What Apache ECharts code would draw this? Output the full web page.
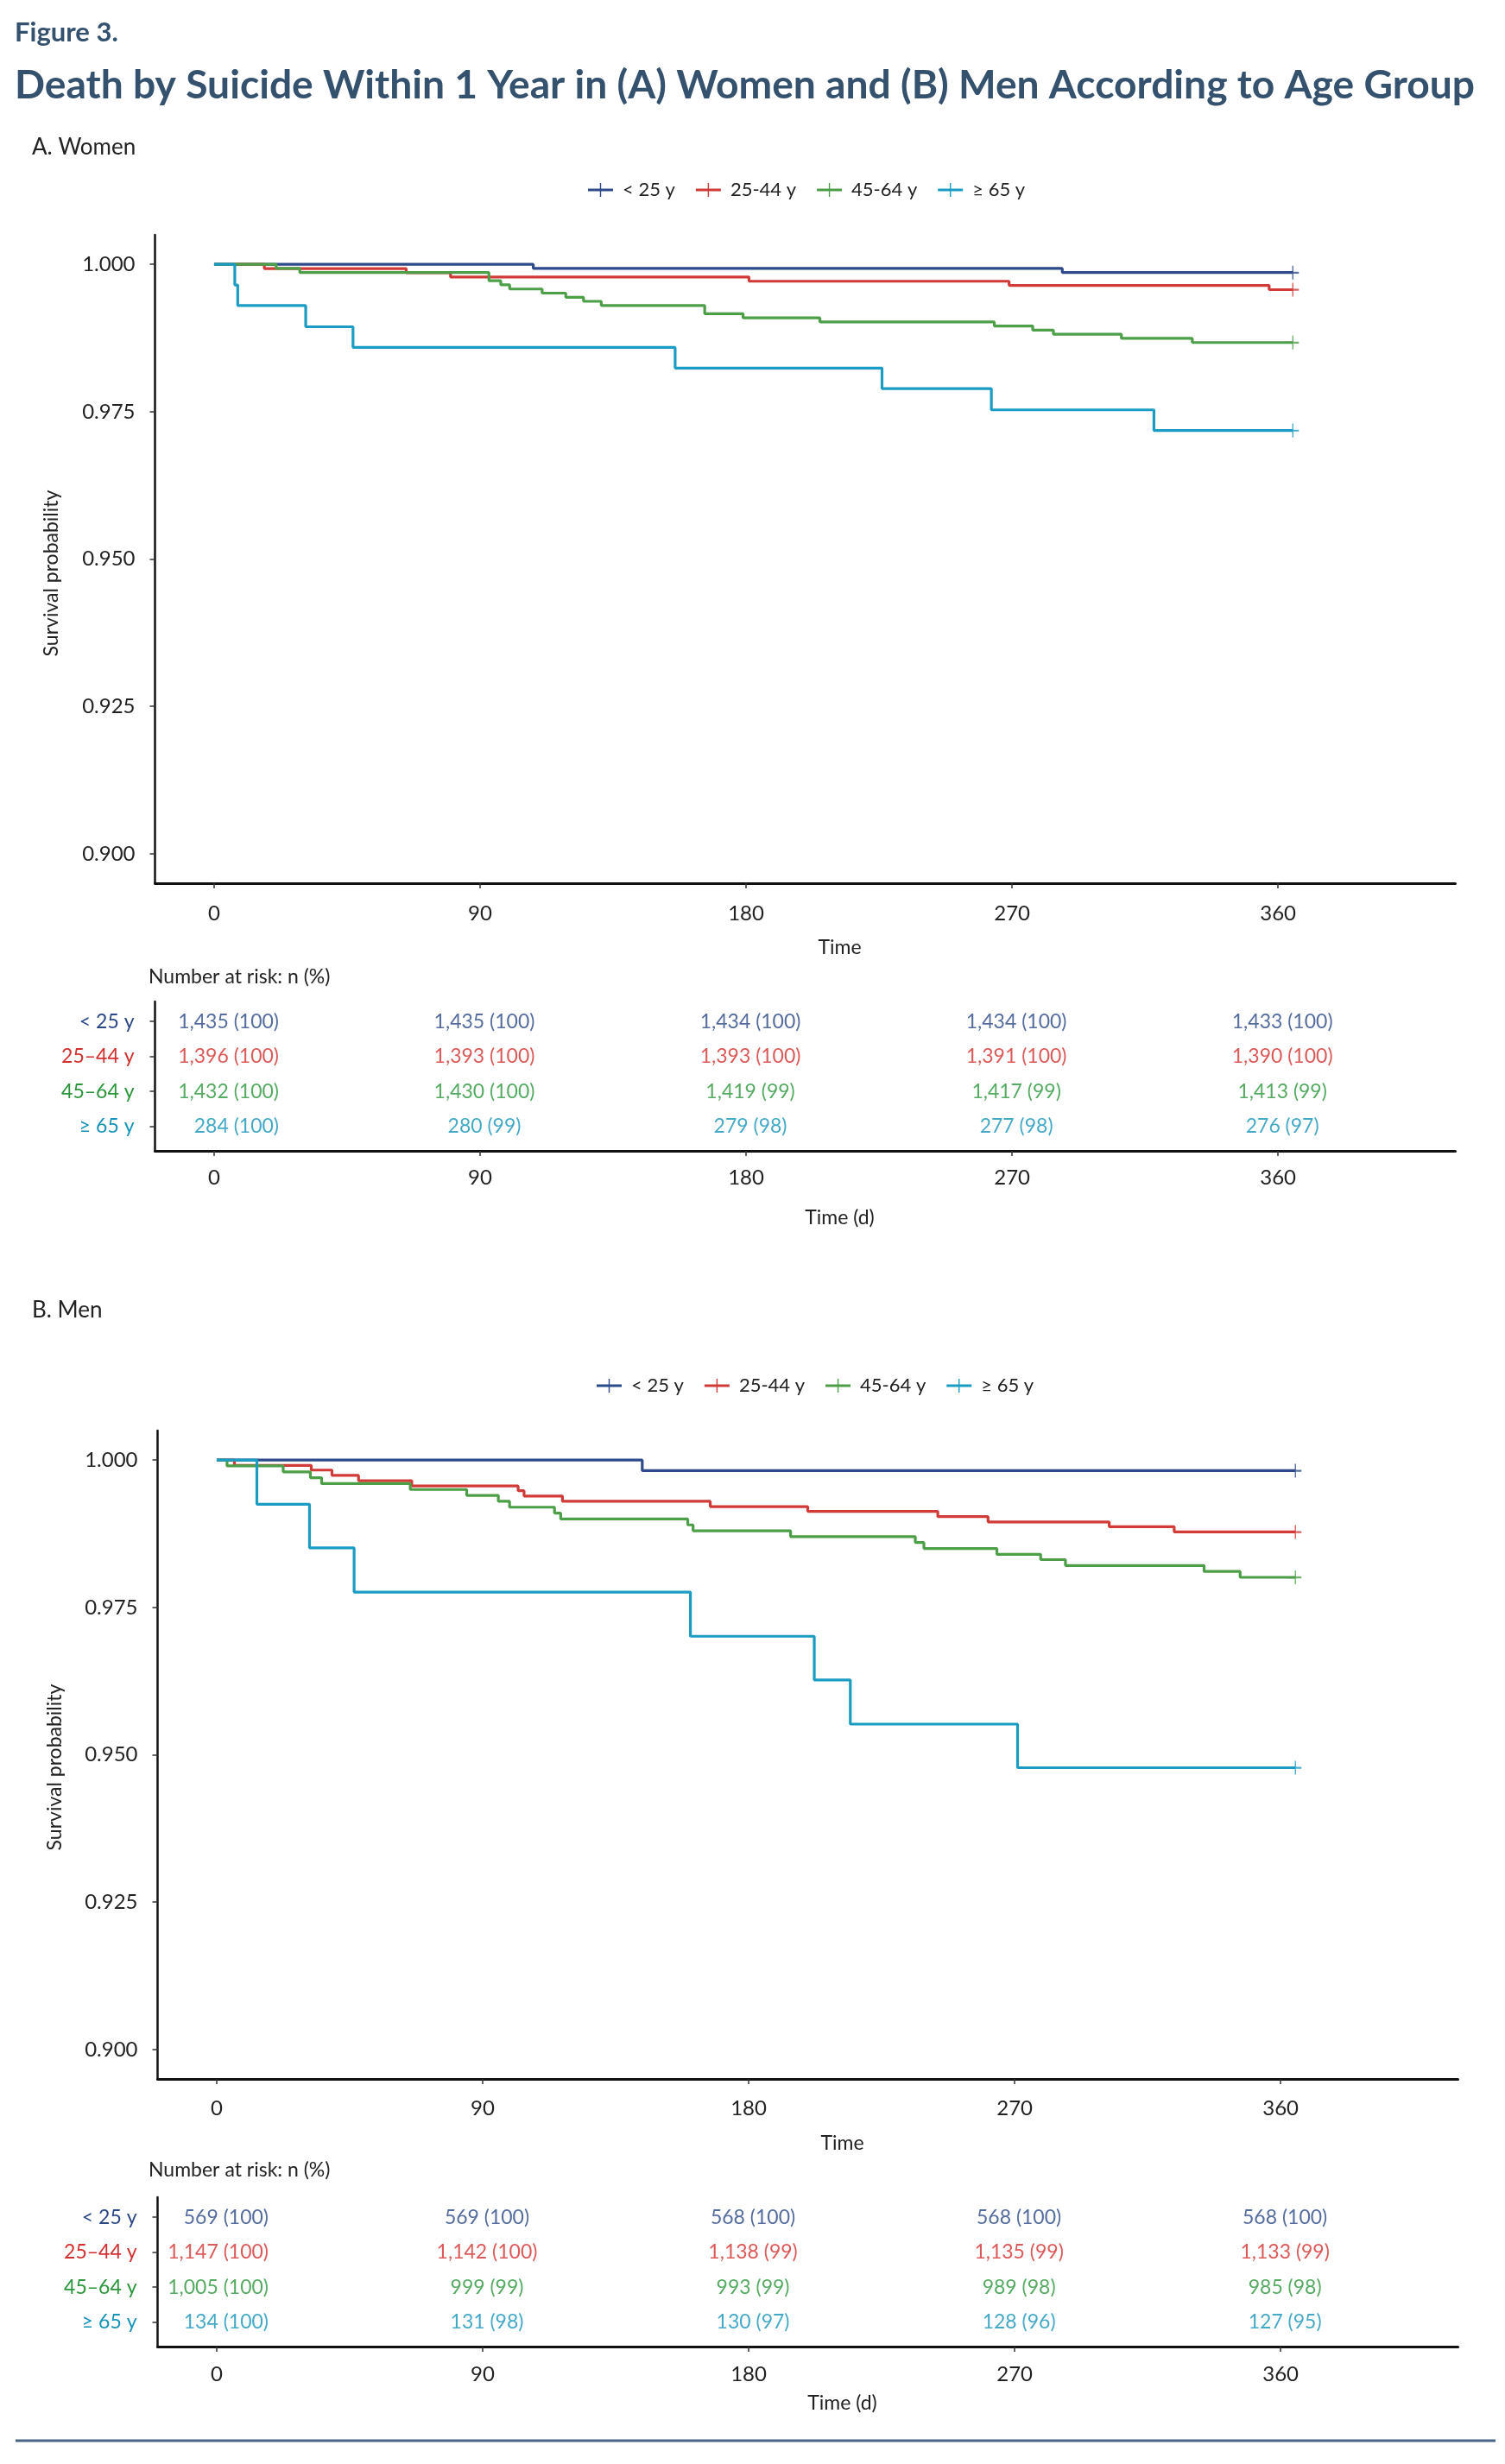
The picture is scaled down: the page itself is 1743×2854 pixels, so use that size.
<!DOCTYPE html>
<html><head><meta charset="utf-8">
<script src="https://cdn.jsdelivr.net/npm/echarts@6.0.0/dist/echarts.min.js"></script>
<style>html,body{margin:0;padding:0;background:#fff}#c{width:1743px;height:2854px}</style>
</head><body><div id="c"></div>
<script>
// ---------- DATA ----------
const groupNames = ['< 25 y', '25-44 y', '45-64 y', '≥ 65 y'];
const riskRowLabels = ['< 25 y', '25–44 y', '45–64 y', '≥ 65 y'];
const timeTicks = [0, 90, 180, 270, 360];
const survTicks = [0.900, 0.925, 0.950, 0.975, 1.000];

// A. Women – Kaplan-Meier steps (time in days, survival probability)
const womenU25Time = [0, 108, 287, 365];
const womenU25Surv = [1, 0.9993, 0.9986, 0.9986];
const women2544Time = [0, 17, 65, 80, 181, 269, 357, 365];
const women2544Surv = [1, 0.99928, 0.99857, 0.99785, 0.99713, 0.99642, 0.99570, 0.99570];
const women4564Time = [0, 21, 29, 93, 97, 100, 111, 119, 125, 131, 166, 179, 205, 264, 277, 284, 307, 331, 365];
const women4564Surv = [1, 0.99930, 0.99860, 0.99721, 0.99651, 0.99581, 0.99511, 0.99441, 0.99372, 0.99302, 0.99162, 0.99092, 0.99022, 0.98953, 0.98883, 0.98813, 0.98743, 0.98673, 0.98673];
const women65Time = [0, 7, 8, 31, 47, 156, 226, 263, 318, 365];
const women65Surv = [1, 0.9965, 0.9930, 0.9894, 0.9859, 0.9824, 0.9789, 0.9753, 0.9718, 0.9718];

// B. Men
const menU25Time = [0, 144, 365];
const menU25Surv = [1, 0.9982, 0.9982];
const men2544Time = [0, 6, 32, 39, 48, 66, 102, 104, 117, 167, 200, 244, 261, 302, 324, 365];
const men2544Surv = [1, 0.9991, 0.9983, 0.9974, 0.9965, 0.9956, 0.9948, 0.9939, 0.9930, 0.9921, 0.9913, 0.9904, 0.9895, 0.9887, 0.9878, 0.9878];
const men4564Time = [0, 3.5, 22.5, 31.7, 35.5, 65.5, 84.6, 95.3, 99.1, 114.3, 116.4, 159.4, 161.2, 194.2, 236.4, 239.3, 264, 278.8, 287.2, 334.1, 346.3, 365];
const men4564Surv = [1, 0.9990, 0.9980, 0.9970, 0.9960, 0.9950, 0.9940, 0.9930, 0.9920, 0.9910, 0.9900, 0.9890, 0.9880, 0.9870, 0.9860, 0.9850, 0.9840, 0.9831, 0.9821, 0.9811, 0.9801, 0.9801];
const men65Time = [0, 13.6, 31.4, 46.5, 160.3, 202.2, 214.4, 271, 365];
const men65Surv = [1, 0.9925, 0.9851, 0.9776, 0.9701, 0.9627, 0.9552, 0.9478, 0.9478];

// Number at risk: n and (%) at 0, 90, 180, 270, 360 days
const womenRiskN = [[1435, 1435, 1434, 1434, 1433], [1396, 1393, 1393, 1391, 1390], [1432, 1430, 1419, 1417, 1413], [284, 280, 279, 277, 276]];
const womenRiskPct = [[100, 100, 100, 100, 100], [100, 100, 100, 100, 100], [100, 100, 99, 99, 99], [100, 99, 98, 98, 97]];
const menRiskN = [[569, 569, 568, 568, 568], [1147, 1142, 1138, 1135, 1133], [1005, 999, 993, 989, 985], [134, 131, 130, 128, 127]];
const menRiskPct = [[100, 100, 100, 100, 100], [100, 100, 99, 99, 99], [100, 99, 99, 98, 98], [100, 98, 97, 96, 95]];

// ---------- STYLE ----------
const lineColors = ['#2d4a8a', '#d13b37', '#4c9f47', '#1b9cc2'];
const textColors = ['#2b4786', '#d2302e', '#2b963b', '#1593b9'];
const FONT = 'Lato';
const plusIcon = 'path://M0,6.5L29,6.5L29,9.5L0,9.5Z M13.8,0L15.2,0L15.2,16L13.8,16Z';
const censorIcon = 'path://M0,7L14,7L14,9.2L0,9.2Z M6.3,0L7.7,0L7.7,16L6.3,16Z';

const womenCurves = [[womenU25Time, womenU25Surv], [women2544Time, women2544Surv], [women4564Time, women4564Surv], [women65Time, women65Surv]];
const menCurves = [[menU25Time, menU25Surv], [men2544Time, men2544Surv], [men4564Time, men4564Surv], [men65Time, men65Surv]];

function xAxisFor(gridIndex, name, nameGap, labelMargin) {
  return {
    type: 'value', gridIndex, min: -20, max: 420,
    name, nameLocation: 'middle', nameGap,
    nameTextStyle: { fontFamily: FONT, fontSize: 23, color: '#222', padding: [0, 0, 0, 80] },
    axisLine: { show: true, onZero: false, lineStyle: { color: '#111', width: 3 } },
    axisTick: { show: true, length: 6, customValues: timeTicks, lineStyle: { color: '#333', width: 1.5 } },
    axisLabel: { customValues: timeTicks, margin: labelMargin, fontFamily: FONT, fontSize: 24, color: '#222' },
    splitLine: { show: false }
  };
}
function yPlotAxis(gridIndex) {
  return {
    type: 'value', gridIndex, min: 0.895, max: 1.005,
    axisLine: { show: true, onZero: false, lineStyle: { color: '#111', width: 2.5 } },
    axisTick: { show: true, length: 6, customValues: survTicks, lineStyle: { color: '#333', width: 1.5 } },
    axisLabel: { customValues: survTicks, margin: 23, fontFamily: FONT, fontSize: 24, color: '#222',
      formatter: v => Number(v).toFixed(3) },
    splitLine: { show: false }
  };
}
const rich = {};
textColors.forEach((c, i) => { rich['r' + i] = { color: c, fontFamily: FONT, fontSize: 23 }; });
function yTableAxis(gridIndex) {
  return {
    type: 'value', gridIndex, min: 0.43, max: 4.70, inverse: true,
    axisLine: { show: true, onZero: false, lineStyle: { color: '#111', width: 2.5 } },
    axisTick: { show: true, length: 6, customValues: [1, 2, 3, 4], lineStyle: { color: '#333', width: 1.5 } },
    axisLabel: { customValues: [1, 2, 3, 4], margin: 24,
      formatter: v => { const i = Math.round(v) - 1; return '{r' + i + '|' + riskRowLabels[i] + '}'; }, rich },
    splitLine: { show: false }
  };
}

const series = [];
function addCurves(curves, axisIdx, tag) {
  curves.forEach(([T, S], g) => {
    series.push({
      name: groupNames[g], type: 'line', step: 'end', xAxisIndex: axisIdx, yAxisIndex: axisIdx,
      data: T.map((t, i) => [t, S[i]]), symbol: 'none', showSymbol: false,
      lineStyle: { color: lineColors[g], width: 3.2 }, itemStyle: { color: lineColors[g] },
      z: 2 + g, animation: false
    });
    series.push({
      name: 'censor' + tag + g, type: 'scatter', xAxisIndex: axisIdx, yAxisIndex: axisIdx,
      data: [[T[T.length - 1], S[S.length - 1]]], symbol: censorIcon, symbolSize: [14, 16],
      itemStyle: { color: lineColors[g] }, z: 6, animation: false, silent: true
    });
  });
}
function addRisk(riskN, riskPct, axisIdx, firstOffset, tag) {
  riskN.forEach((row, g) => {
    series.push({
      name: 'risk' + tag + g, type: 'scatter', xAxisIndex: axisIdx, yAxisIndex: axisIdx,
      symbolSize: 0.1, itemStyle: { color: 'transparent' }, silent: true, animation: false,
      data: timeTicks.map((t, j) => (j === 0
        ? { value: [t, g + 1], label: { align: 'right', offset: [firstOffset, 0] } }
        : { value: [t, g + 1] })),
      label: {
        show: true, position: 'inside', offset: [5, 0], color: textColors[g],
        fontFamily: FONT, fontSize: 23,
        formatter: p => row[p.dataIndex].toLocaleString('en-US') + ' (' + riskPct[g][p.dataIndex] + ')'
      }
    });
  });
}
addCurves(womenCurves, 0, 'A');
addRisk(womenRiskN, womenRiskPct, 1, 75, 'A');
addCurves(menCurves, 2, 'B');
addRisk(menRiskN, menRiskPct, 3, 60, 'B');

const legendBase = {
  data: groupNames.map(n => ({ name: n, icon: plusIcon })),
  itemWidth: 29, itemHeight: 16, itemGap: 24, selectedMode: false, orient: 'horizontal',
  textStyle: { fontFamily: FONT, fontSize: 22, color: '#222', padding: [0, 0, 0, 6] }
};

const option = {
  backgroundColor: '#fff',
  animation: false,
  grid: [
    { left: 179.5, width: 1506, top: 272, height: 751, outerBoundsMode: 'none' },
    { left: 179.5, width: 1506, top: 1160, height: 173, outerBoundsMode: 'none' },
    { left: 182.5, width: 1506, top: 1657, height: 751, outerBoundsMode: 'none' },
    { left: 182.5, width: 1506, top: 2545, height: 173, outerBoundsMode: 'none' }
  ],
  xAxis: [
    xAxisFor(0, 'Time', 63, 23),
    xAxisFor(1, 'Time (d)', 66, 19),
    xAxisFor(2, 'Time', 63, 22),
    xAxisFor(3, 'Time (d)', 54, 20)
  ],
  yAxis: [yPlotAxis(0), yTableAxis(1), yPlotAxis(2), yTableAxis(3)],
  legend: [
    Object.assign({}, legendBase, { left: 676, top: 204 }),
    Object.assign({}, legendBase, { left: 686, top: 1589 })
  ],
  graphic: [
    { type: 'text', left: 17, top: 22, style: { text: 'Figure 3.', fill: '#34526e', fontFamily: FONT, fontWeight: 'bold', fontSize: 31 } },
    { type: 'text', left: 17, top: 76, style: { text: 'Death by Suicide Within 1 Year in (A) Women and (B) Men According to Age Group', fill: '#34526e', fontFamily: FONT, fontWeight: 'bold', fontSize: 46.2 } },
    { type: 'text', left: 37, top: 158, style: { text: 'A. Women', fill: '#222', fontFamily: FONT, fontSize: 26 } },
    { type: 'text', left: 37, top: 1505, style: { text: 'B. Men', fill: '#222', fontFamily: FONT, fontSize: 26 } },
    { type: 'text', left: 172, top: 1120, style: { text: 'Number at risk: n (%)', fill: '#222', fontFamily: FONT, fontSize: 23 } },
    { type: 'text', left: 172, top: 2502, style: { text: 'Number at risk: n (%)', fill: '#222', fontFamily: FONT, fontSize: 23 } },
    { type: 'text', x: 60, y: 664, rotation: Math.PI / 2, style: { text: 'Survival probability', fill: '#222', fontFamily: FONT, fontSize: 23, align: 'center', verticalAlign: 'middle' } },
    { type: 'text', x: 64, y: 2047, rotation: Math.PI / 2, style: { text: 'Survival probability', fill: '#222', fontFamily: FONT, fontSize: 23, align: 'center', verticalAlign: 'middle' } },
    { type: 'line', shape: { x1: 18, y1: 2827, x2: 1732, y2: 2827 }, style: { stroke: '#4a6584', lineWidth: 3 } }
  ],
  series
};
const chart = echarts.init(document.getElementById('c'), null, { renderer: 'canvas' });
chart.setOption(option);
</script></body></html>
